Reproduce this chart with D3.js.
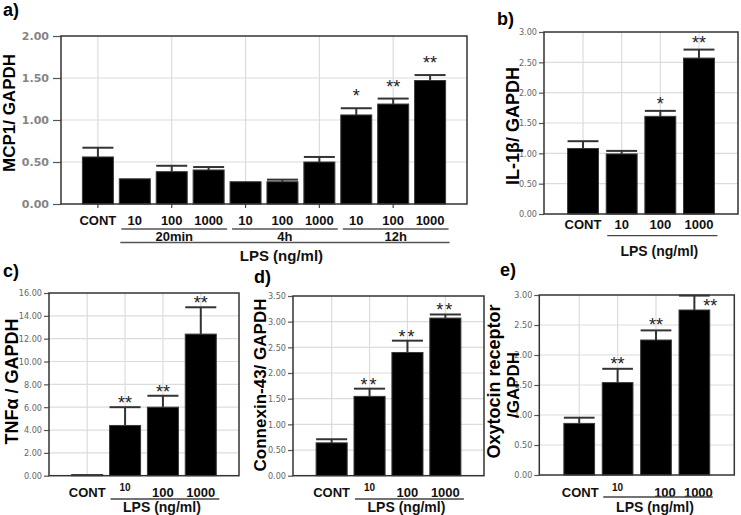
<!DOCTYPE html>
<html><head><meta charset="utf-8">
<script src="https://cdn.jsdelivr.net/npm/d3@7"></script>
<style>body{margin:0;background:#fff}</style>
</head><body><svg id="chart" width="741" height="515"></svg>
<script>
// ---------- data ----------
const aCategories = ["CONT","10","100","1000","10","100","1000","10","100","1000"];
const aGroupOf = [-1,0,0,0,1,1,1,2,2,2];
const aGroupLabels = ["20min","4h","12h"];
const aValues = [0.56,0.30,0.385,0.405,0.265,0.265,0.50,1.06,1.19,1.47];
const aErrors = [0.11,0,0.07,0.035,0,0.025,0.06,0.08,0.065,0.065];
const aStars = ["","","","","","","","*","**","**"];
const aTicks = [0,0.5,1,1.5,2];

const doseCategories = ["CONT","10","100","1000"];
const bValues = [1.08,0.99,1.61,2.57];
const bErrors = [0.12,0.05,0.09,0.14];
const bStars = ["","","*","**"];
const bTicks = [0,0.5,1,1.5,2,2.5,3];

const cValues = [0.1,4.4,6.0,12.4];
const cErrors = [0,1.6,1.0,2.35];
const cStars = ["","**","**","**"];
const cTicks = [0,2,4,6,8,10,12,14,16];

const dValues = [0.64,1.545,2.40,3.07];
const dErrors = [0.07,0.15,0.23,0.07];
const dStars = ["","**","**","**"];
const dTicks = [0,0.5,1,1.5,2,2.5,3,3.5];

const eValues = [0.86,1.54,2.25,2.75];
const eErrors = [0.095,0.23,0.16,0.24];
const eStars = ["","**","**","**"];
const eTicks = [0,0.5,1,1.5,2,2.5,3];

const xAxisTitle = "LPS (ng/ml)";

// ---------- drawing ----------
const svg = d3.select("#chart");
const BOLD = "'Liberation Sans', Arial, sans-serif";
const NARROW = "'Liberation Sans Narrow', 'DejaVu Sans Condensed', 'Liberation Sans', sans-serif";

function panel(cfg) {
  const g = svg.append("g");
  const n = cfg.categories.length;
  const x = d3.scaleBand().domain(d3.range(n)).range([cfg.l, cfg.r])
    .paddingInner(cfg.pi).paddingOuter(cfg.po);
  const y = d3.scaleLinear().domain([0, d3.max(cfg.ticks)]).range([cfg.b, cfg.t]);
  const bw = x.bandwidth();
  const cx = i => x(i) + bw / 2;

  // grid
  g.append("g").selectAll("line").data(cfg.ticks.filter(t => t > 0 && t < d3.max(cfg.ticks)))
    .join("line").attr("x1", cfg.l).attr("x2", cfg.r)
    .attr("y1", d => y(d)).attr("y2", d => y(d))
    .attr("stroke", "#dcdcdc").attr("stroke-width", 1.2);
  const gridIdx = d3.range(n).filter(i => i % cfg.gridEvery === 0);
  g.append("g").selectAll("line").data(gridIdx).join("line")
    .attr("x1", cx).attr("x2", cx).attr("y1", cfg.t).attr("y2", cfg.b)
    .attr("stroke", "#dcdcdc").attr("stroke-width", 1.2);

  // bars
  g.append("g").selectAll("rect").data(cfg.values).join("rect")
    .attr("x", (d, i) => x(i)).attr("width", bw)
    .attr("y", d => y(d)).attr("height", d => cfg.b - y(d))
    .attr("fill", "#000").attr("stroke", "#3a3a3a").attr("stroke-width", 1);

  // error bars
  const eb = g.append("g").attr("stroke", "#333").attr("stroke-width", 2);
  cfg.values.forEach((v, i) => {
    const e = cfg.errors[i];
    if (e <= 0) return;
    eb.append("line").attr("x1", cx(i)).attr("x2", cx(i)).attr("y1", y(v)).attr("y2", y(v + e));
    eb.append("line").attr("x1", x(i)).attr("x2", x(i) + bw).attr("y1", y(v + e)).attr("y2", y(v + e));
  });

  // stars
  g.append("g").selectAll("text").data(cfg.stars).join("text")
    .attr("x", (d, i) => cx(i) + ((cfg.starShift && cfg.starShift[i]) ? cfg.starShift[i][0] : 0))
    .attr("y", (d, i) => y(cfg.values[i] + cfg.errors[i]) + cfg.starDy + ((cfg.starShift && cfg.starShift[i]) ? cfg.starShift[i][1] : 0))
    .attr("text-anchor", "middle").attr("font-family", BOLD).attr("font-size", 18)
    .attr("letter-spacing", cfg.starSpacing || 0)
    .attr("fill", "#222").text(d => d);

  // y axis
  const ya = d3.axisLeft(y).tickValues(cfg.ticks).tickFormat(d3.format(".2f"))
    .tickSize(cfg.tickLen).tickPadding(cfg.tickPad);
  const yg = g.append("g").attr("transform", `translate(${cfg.l},0)`).call(ya);
  yg.select(".domain").remove();
  yg.selectAll(".tick line").attr("stroke", "#555").attr("stroke-width", 1.2);
  if (cfg.bigTicks) {
    yg.selectAll(".tick text").attr("font-family", "'DejaVu Sans', sans-serif")
      .attr("font-weight", "bold").attr("font-size", 11).attr("fill", "#858585");
  } else {
    yg.selectAll(".tick text").attr("font-family", NARROW)
      .attr("font-size", 9).attr("fill", "#666");
  }

  // x ticks
  g.append("g").selectAll("line").data(cfg.xTickEvery ? d3.range(n).filter(i => i % cfg.xTickEvery === 0) : [])
    .join("line").attr("x1", cx).attr("x2", cx).attr("y1", cfg.b).attr("y2", cfg.b + 4)
    .attr("stroke", "#444").attr("stroke-width", 1.2);

  // box
  g.append("rect").attr("x", cfg.l).attr("y", cfg.t).attr("width", cfg.r - cfg.l).attr("height", cfg.b - cfg.t)
    .attr("fill", "none").attr("stroke", "#333").attr("stroke-width", 1.5);

  // category labels
  g.append("g").selectAll("text").data(cfg.categories).join("text")
    .attr("x", (d, i) => cx(i) + (cfg.labelDx ? cfg.labelDx[i] : 0))
    .attr("y", (d, i) => (cfg.smallTen && d === "10") ? cfg.catY - 5.5 : cfg.catY)
    .attr("text-anchor", "middle").attr("font-family", BOLD).attr("font-weight", "bold")
    .attr("font-size", (d, i) => (cfg.smallTen && d === "10") ? 10 : cfg.catSize)
    .attr("fill", "#111").text(d => d);

  // treatment line + LPS title
  if (!cfg.grouped) {
    const x0 = x(1) + 1, x1 = x(n - 1) + bw + 3;
    g.append("line").attr("x1", x0).attr("x2", x1).attr("y1", cfg.lineY).attr("y2", cfg.lineY)
      .attr("stroke", "#444").attr("stroke-width", 1.3);
  }
  const lx0 = x(1) + 1, lx1 = x(n - 1) + bw + 3;
  g.append("text").attr("x", (lx0 + lx1) / 2 - 3).attr("y", cfg.lpsY)
    .attr("text-anchor", "middle").attr("font-family", BOLD).attr("font-weight", "bold")
    .attr("font-size", cfg.lpsSize).attr("fill", "#111").text(xAxisTitle);

  // y title
  cfg.titles.forEach(tt => {
    g.append("text").attr("transform", `translate(${tt.x},${tt.y}) rotate(-90)`)
      .attr("text-anchor", "middle").attr("dominant-baseline", "central")
      .attr("font-family", BOLD).attr("font-weight", "bold").attr("font-size", tt.size)
      .attr("fill", "#000").text(tt.text);
  });

  // panel letter
  g.append("text").attr("x", cfg.letterX).attr("y", cfg.letterY)
    .attr("font-family", BOLD).attr("font-weight", "bold").attr("font-size", 18)
    .attr("fill", "#000").text(cfg.letter);

  return {x, y, bw, g};
}

// panel a
const pa = panel({
  letter: "a)", letterX: 3, letterY: 16,
  l: 61, r: 467, t: 36, b: 204, pi: 0.16, po: 0.58, grouped: true,
  categories: aCategories, values: aValues, errors: aErrors, stars: aStars, ticks: aTicks,
  gridEvery: 2, xTickEvery: 2, bigTicks: true, tickLen: 8, tickPad: 4,
  starDy: -6, catY: 225, catSize: 13, lineY: 242.5, lpsY: 261, lpsSize: 15,
  titles: [{text: "MCP1/ GAPDH", x: 9.5, y: 113, size: 17}]
});
{
  const g = pa.g, x = pa.x, bw = pa.bw;
  aGroupLabels.forEach((lab, gi) => {
    const idx = d3.range(aCategories.length).filter(i => aGroupOf[i] === gi);
    const s = x(idx[0]) + 2, e = x(idx[idx.length - 1]) + bw + 3;
    g.append("line").attr("x1", s).attr("x2", e).attr("y1", 229).attr("y2", 229)
      .attr("stroke", "#555").attr("stroke-width", 1.3);
    g.append("text").attr("x", (s + e) / 2).attr("y", 240.5).attr("text-anchor", "middle")
      .attr("font-family", BOLD).attr("font-weight", "bold").attr("font-size", 13)
      .attr("fill", "#111").text(lab);
  });
  const s = x(1) + 1, e = x(aCategories.length - 1) + bw + 4;
  g.append("line").attr("x1", s).attr("x2", e).attr("y1", 242.5).attr("y2", 242.5)
    .attr("stroke", "#555").attr("stroke-width", 1.3);
}

// panel b
panel({
  letter: "b)", letterX: 497, letterY: 25,
  l: 544, r: 738, t: 32, b: 214, pi: 0.2, po: 0.61,
  categories: doseCategories, values: bValues, errors: bErrors, stars: bStars, ticks: bTicks,
  gridEvery: 1, xTickEvery: 0, bigTicks: false, tickLen: 5, tickPad: 2,
  starDy: -1, catY: 228.5, catSize: 13, lineY: 235.7, lpsY: 255.5, lpsSize: 14,
  titles: [{text: "IL-1β/ GAPDH", x: 513, y: 126, size: 18}]
});

// panel c
panel({
  letter: "c)", letterX: 3, letterY: 277,
  l: 49, r: 239, t: 293, b: 475.7, pi: 0.18, po: 0.6,
  categories: doseCategories, values: cValues, errors: cErrors, stars: cStars, ticks: cTicks,
  gridEvery: 1, xTickEvery: 0, bigTicks: false, tickLen: 5, tickPad: 2,
  starDy: 2, catY: 496.5, catSize: 13, lineY: 499, lpsY: 512, lpsSize: 14, smallTen: true,
  titles: [{text: "TNFα / GAPDH", x: 11.5, y: 381.5, size: 18}]
});

// panel d
panel({
  letter: "d)", letterX: 254, letterY: 283,
  l: 293, r: 484, t: 296, b: 475.7, pi: 0.18, po: 0.61,
  categories: doseCategories, values: dValues, errors: dErrors, stars: dStars, ticks: dTicks,
  gridEvery: 1, xTickEvery: 0, bigTicks: false, tickLen: 5, tickPad: 2,
  starDy: 2, starSpacing: 2, catY: 496.5, catSize: 13, lineY: 499, lpsY: 512, lpsSize: 14, smallTen: true,
  titles: [{text: "Connexin-43/ GAPDH", x: 260, y: 385, size: 17}]
});

// panel e
panel({
  letter: "e)", letterX: 500, letterY: 276,
  l: 539.3, r: 734.3, t: 295, b: 475, pi: 0.2, po: 0.64,
  categories: doseCategories, values: eValues, errors: eErrors, stars: eStars, ticks: eTicks,
  gridEvery: 1, xTickEvery: 0, bigTicks: false, tickLen: 5, tickPad: 2,
  starDy: 1, starShift: {3: [16, 15]}, catY: 496.5, catSize: 13, lineY: 497, lpsY: 511.5, lpsSize: 14, smallTen: true,
  labelDx: [1, 0, 9, 4],
  titles: [{text: "Oxytocin receptor", x: 493.5, y: 381.5, size: 18},
           {text: "/GAPDH", x: 513.5, y: 385, size: 17}]
});
</script>
</body></html>
